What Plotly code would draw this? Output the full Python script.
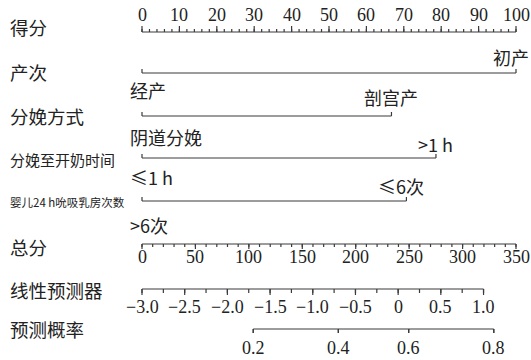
import numpy as np
import plotly.graph_objects as go

# ---------------- data ----------------
row_labels = ["得分", "产次", "分娩方式", "分娩至开奶时间", "婴儿24 h吮吸乳房次数",
              "总分", "线性预测器", "预测概率"]

points_major = list(range(0, 101, 10))
points_minor = list(range(0, 101, 2))

parity_levels = ["经产", "初产"]
parity_points = [0, 100]
delivery_levels = ["阴道分娩", "剖宫产"]
delivery_points = [0, 66.7]
lactation_levels = ["≤1 h", ">1 h"]
lactation_points = [0, 78.6]
suck_levels = [">6次", "≤6次"]
suck_points = [0, 70.7]

total_major = list(range(0, 351, 50))
total_minor = list(range(0, 351, 10))
total_max = 350

lp_major = [-3.0, -2.5, -2.0, -1.5, -1.0, -0.5, 0.0, 0.5, 1.0]
lp_labels = ["−3.0", "−2.5", "−2.0", "−1.5", "−1.0", "−0.5", "0", "0.5", "1.0"]
lp_minor = list(np.arange(-3.0, 1.0001, 0.25))
lp_points_per_unit = 22.83      # LP scale relative to the points scale

prob_ticks = [0.2, 0.4, 0.6, 0.8]
prob_labels = ["0.2", "0.4", "0.6", "0.8"]
prob_center_pts = 61.9          # points position of p = 0.5
prob_pts_per_logit = 23.2

# ---------------- scales ----------------
def total_to_pts(t):
    return np.asarray(t, float) * 100.0 / total_max

def lp_to_pts(v):
    return (np.asarray(v, float) + 3.0) * lp_points_per_unit

def prob_to_pts(p):
    p = np.asarray(p, float)
    return prob_center_pts + prob_pts_per_logit * np.log(p / (1 - p))

# ---------------- layout constants (screen pixels) ----------------
W, H = 531, 360
X0, X100 = 142, 516
px_per_pt = (X100 - X0) / 100.0
xmin = -X0 / px_per_pt
xmax = (W - X0) / px_per_pt

LINE = "#3a3a3a"
NUM_FONT = dict(family="Liberation Serif, DejaVu Serif, serif", size=18, color="#222")
CJK = "Noto Sans CJK SC, Noto Sans, sans-serif"
CAT_FONT = dict(family=CJK, size=18, color="#222")

fig = go.Figure()

def seg_trace(xs_pairs, ys_pairs, width=1.2):
    xs, ys = [], []
    for (xa, xb), (ya, yb) in zip(xs_pairs, ys_pairs):
        xs += [xa, xb, None]
        ys += [ya, yb, None]
    fig.add_trace(go.Scatter(x=xs, y=ys, mode="lines",
                             line=dict(color=LINE, width=width),
                             hoverinfo="skip", showlegend=False))

def axis_row(major_pos, minor_pos, y, direction, major_len, minor_len):
    lo, hi = float(np.min(minor_pos)), float(np.max(minor_pos))
    pairs_x = [(lo, hi)]
    pairs_y = [(y, y)]
    for m in minor_pos:
        pairs_x.append((m, m)); pairs_y.append((y, y + direction * minor_len))
    for m in major_pos:
        pairs_x.append((m, m)); pairs_y.append((y, y + direction * major_len))
    seg_trace(pairs_x, pairs_y)

annotations = []

def text(x, y, s, font, xanchor="center", xref="x", xshift=0):
    annotations.append(dict(x=x, y=y, xref=xref, yref="y", text=s, showarrow=False,
                            font=font, xanchor=xanchor, yanchor="middle", xshift=xshift))

# Row titles
row_y = [27, 72, 116, 159, 202, 247, 290, 329]
row_sizes = [18.5, 18.5, 18.5, 15, 11.5, 18.5, 18.5, 18.5]
for lab, yy, sz in zip(row_labels, row_y, row_sizes):
    text(8 / W, yy, lab, dict(family=CJK, size=sz, color="#222"), xanchor="left", xref="paper")

# Points axis (ticks upward, labels above)
axis_row(points_major, points_minor, 32, -1, 6, 3)
for v in points_major:
    text(v, 15, str(v), NUM_FONT)

# Categorical rows: (levels, points, line y, top-label y, bottom-label y, top-label shift)
cat_rows = [
    (parity_levels, parity_points, 73, 57, 90, -5),
    (delivery_levels, delivery_points, 116, 97, 137, 0),
    (lactation_levels, lactation_points, 158, 144, 177, 0),
    (suck_levels, suck_points, 201, 186, 225, -5),
]
for levels, pts, yl, ytop, ybot, sh in cat_rows:
    seg_trace([(pts[0], pts[1]), (pts[0], pts[0]), (pts[1], pts[1])],
              [(yl, yl), (yl, yl - 4), (yl, yl - 4)])
    text(pts[0] - 14 / px_per_pt, ybot, levels[0], CAT_FONT, xanchor="left")
    text(pts[1], ytop, levels[1], CAT_FONT, xanchor="center", xshift=sh)

# Total points axis (ticks down, labels below)
axis_row(total_to_pts(total_major), total_to_pts(total_minor), 244, 1, 5, 3)
for v, xp in zip(total_major, total_to_pts(total_major)):
    text(float(xp), 257, str(v), NUM_FONT)

# Linear predictor
axis_row(lp_to_pts(lp_major), lp_to_pts(lp_minor), 289, 1, 6, 4)
for lab, xp in zip(lp_labels, lp_to_pts(lp_major)):
    text(float(xp), 307, lab, NUM_FONT)

# Predicted probability
pp = prob_to_pts(prob_ticks)
axis_row(pp, pp, 329, 1, 4, 4)
for lab, xp in zip(prob_labels, pp):
    text(float(xp), 348, lab, NUM_FONT)

fig.update_layout(
    width=W, height=H,
    margin=dict(l=0, r=0, t=0, b=0),
    paper_bgcolor="white", plot_bgcolor="white",
    xaxis=dict(range=[xmin, xmax], visible=False, fixedrange=True),
    yaxis=dict(range=[H, 0], visible=False, fixedrange=True),
    annotations=annotations,
    showlegend=False,
)
fig.write_html("out.html", config=dict(displayModeBar=False),
               post_script="document.body.style.margin='0';document.body.style.overflow='hidden';")
